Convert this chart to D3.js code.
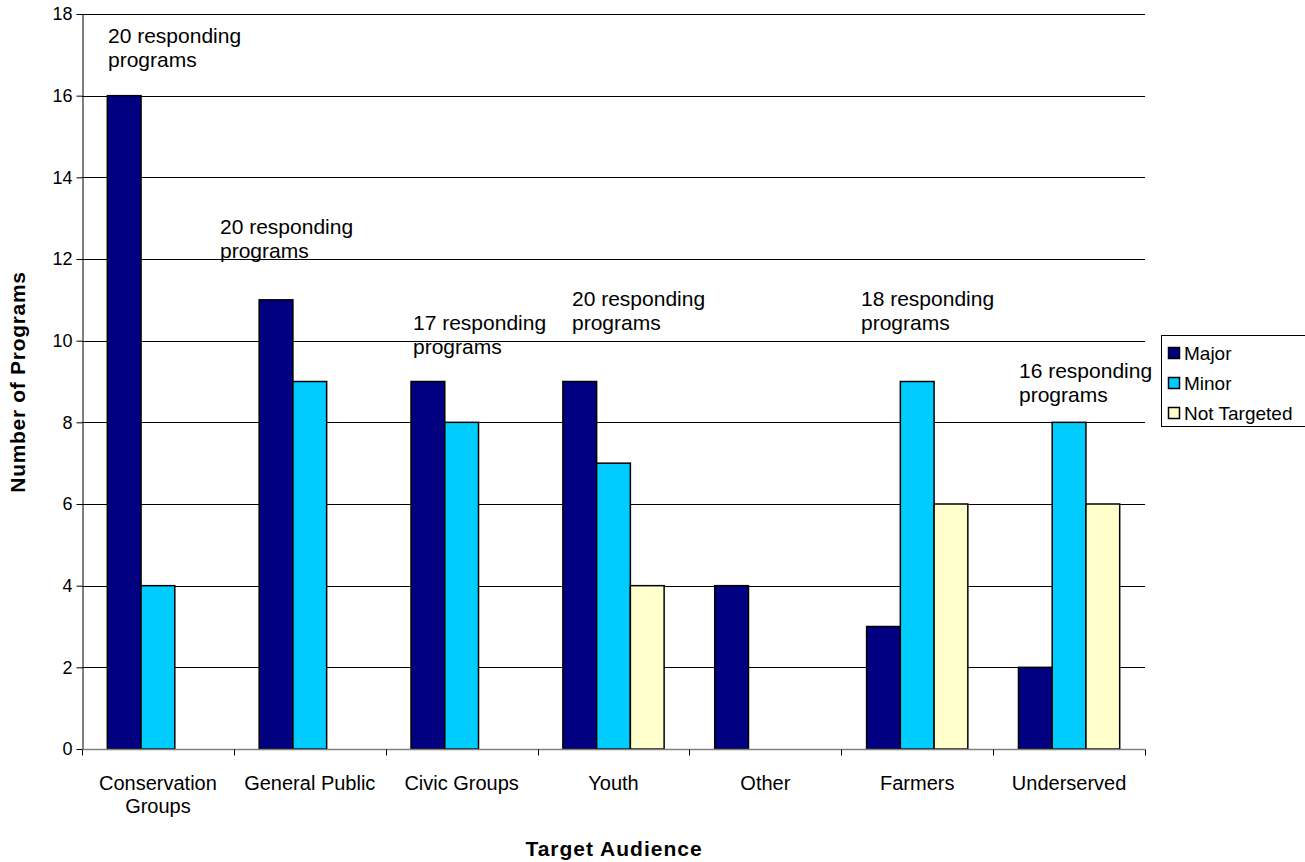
<!DOCTYPE html>
<html>
<head>
<meta charset="utf-8">
<script src="https://cdn.jsdelivr.net/npm/d3@7"></script>
<style>
  html, body { margin: 0; padding: 0; background: #fff; }
  svg { display: block; font-family: "Liberation Sans", Arial, sans-serif; }
</style>
</head>
<body>
<svg id="chart" width="1305" height="862"></svg>
<script>
// Target audience categories
const categories = ["Conservation Groups", "General Public", "Civic Groups", "Youth", "Other", "Farmers", "Underserved"];
// Number of programs per priority level
const major = [16, 11, 9, 9, 4, 3, 2];
const minor = [4, 9, 8, 7, 0, 9, 8];
const notTargeted = [0, 0, 0, 4, 0, 6, 6];
const seriesNames = ["Major", "Minor", "Not Targeted"];
const seriesColors = ["#000080", "#00CCFF", "#FFFFCC"];
const yTicks = [0, 2, 4, 6, 8, 10, 12, 14, 16, 18];
// Respondent counts shown above each group
const respondents = [20, 20, 17, 20, null, 18, 16];
// Category label lines
const categoryLines = [["Conservation", "Groups"], ["General Public"], ["Civic Groups"], ["Youth"], ["Other"], ["Farmers"], ["Underserved"]];

const svg = d3.select("#chart");
const margin = { left: 82, right: 1145, top: 14, bottom: 749 };

const x0 = d3.scaleBand().domain(categories).range([margin.left, margin.right]).paddingInner(0).paddingOuter(0);
const x1 = d3.scaleBand().domain(seriesNames).range([0, x0.bandwidth()]).paddingInner(0).paddingOuter(0.75);
const y = d3.scaleLinear().domain([0, 18]).range([margin.bottom, margin.top]);

// Horizontal gridlines
svg.append("g")
  .selectAll("line")
  .data(yTicks.filter(d => d > 0))
  .join("line")
  .attr("x1", margin.left).attr("x2", margin.right)
  .attr("y1", d => Math.round(y(d)) + 0.5).attr("y2", d => Math.round(y(d)) + 0.5)
  .attr("stroke", "#000").attr("stroke-width", 1);

// Bars
const rows = categories.map((c, i) => ({ cat: c, vals: [major[i], minor[i], notTargeted[i]] }));
svg.append("g")
  .selectAll("g")
  .data(rows)
  .join("g")
  .attr("transform", d => `translate(${x0(d.cat)},0)`)
  .selectAll("rect")
  .data(d => d.vals.map((v, j) => ({ v, s: seriesNames[j], c: seriesColors[j] })).filter(e => e.v > 0))
  .join("rect")
  .attr("x", d => x1(d.s))
  .attr("y", d => y(d.v))
  .attr("width", x1.bandwidth())
  .attr("height", d => y(0) - y(d.v))
  .attr("fill", d => d.c)
  .attr("stroke", "#000")
  .attr("stroke-width", 1.5);

// Y axis
const yAxis = svg.append("g")
  .attr("transform", `translate(${margin.left + 0.5},0)`)
  .call(d3.axisLeft(y).tickValues(yTicks).tickSize(6).tickSizeOuter(0).tickFormat(d3.format("d")));
yAxis.select(".domain").attr("stroke", "#000");
yAxis.selectAll(".tick line").attr("stroke", "#000");
yAxis.selectAll(".tick text").attr("font-size", 18).attr("fill", "#000").attr("x", -10)
  .attr("font-family", "Liberation Sans, Arial, sans-serif");

// X axis
const xAxis = svg.append("g")
  .attr("transform", `translate(0,${margin.bottom + 0.5})`);
xAxis.append("line")
  .attr("x1", margin.left).attr("x2", margin.right)
  .attr("stroke", "#808080").attr("stroke-width", 1.5);
const tickXs = categories.map(c => x0(c)).concat([margin.right]);
xAxis.selectAll("line.tk")
  .data(tickXs)
  .join("line")
  .attr("class", "tk")
  .attr("x1", d => Math.round(d) + 0.5).attr("x2", d => Math.round(d) + 0.5)
  .attr("y1", 0).attr("y2", 6)
  .attr("stroke", "#000");

// Category labels
svg.append("g")
  .selectAll("text")
  .data(categories)
  .join("text")
  .attr("x", d => x0(d) + x0.bandwidth() / 2)
  .attr("y", 790)
  .attr("text-anchor", "middle")
  .attr("font-size", 20)
  .each(function (d, i) {
    d3.select(this).selectAll("tspan")
      .data(categoryLines[i])
      .join("tspan")
      .attr("x", x0(d) + x0.bandwidth() / 2)
      .attr("dy", (l, k) => k === 0 ? 0 : 23)
      .text(l => l);
  });

// Respondent annotations
const notePos = [
  { x: 108, y: 43 }, { x: 220, y: 234 }, { x: 413, y: 330 }, { x: 572, y: 306 },
  null, { x: 861, y: 306 }, { x: 1019, y: 378 }
];
respondents.forEach((n, i) => {
  if (n == null) return;
  const t = svg.append("text")
    .attr("x", notePos[i].x).attr("y", notePos[i].y)
    .attr("font-size", 21).attr("fill", "#000");
  t.append("tspan").attr("x", notePos[i].x).text(`${n} responding`);
  t.append("tspan").attr("x", notePos[i].x).attr("dy", 24).text("programs");
});

// Axis titles
svg.append("text")
  .attr("x", 614).attr("y", 856)
  .attr("text-anchor", "middle")
  .attr("font-size", 21).attr("font-weight", "bold").attr("letter-spacing", 1)
  .text("Target Audience");
svg.append("text")
  .attr("transform", "translate(25,382) rotate(-90)")
  .attr("text-anchor", "middle")
  .attr("font-size", 21).attr("font-weight", "bold").attr("letter-spacing", 0.7)
  .text("Number of Programs");

// Legend
const legend = svg.append("g");
legend.append("rect")
  .attr("x", 1161.5).attr("y", 335.5).attr("width", 150).attr("height", 91)
  .attr("fill", "#fff").attr("stroke", "#000");
seriesNames.forEach((s, j) => {
  const yy = 347 + j * 30;
  legend.append("rect")
    .attr("x", 1168.5).attr("y", yy + 0.5).attr("width", 11).attr("height", 11)
    .attr("fill", seriesColors[j]).attr("stroke", "#000").attr("stroke-width", 1.5);
  legend.append("text")
    .attr("x", 1184).attr("y", yy + 13)
    .attr("font-size", 19)
    .text(s);
});
</script>
</body>
</html>
